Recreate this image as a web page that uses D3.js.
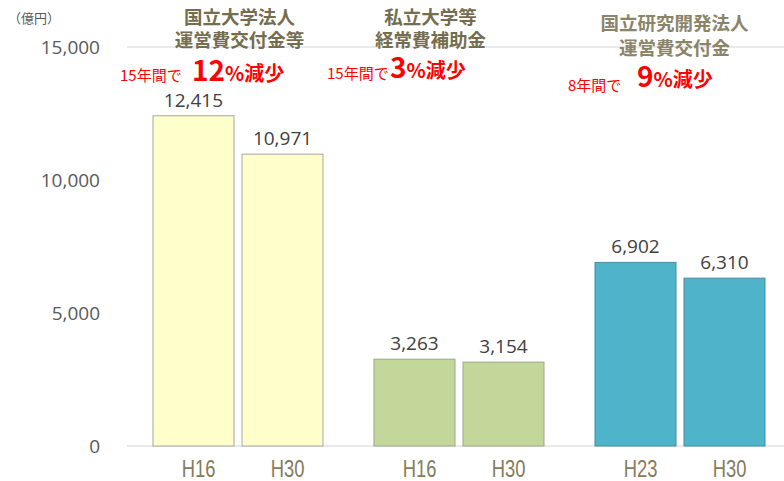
<!DOCTYPE html>
<html>
<head>
<meta charset="utf-8">
<script src="https://cdn.jsdelivr.net/npm/d3@7"></script>
<style>
  body { margin: 0; background: #fff; }
  svg { display: block; }
</style>
</head>
<body>
<script>
// chart data
var titles = [["国立大学法人", "運営費交付金等"], ["私立大学等", "経常費補助金"], ["国立研究開発法人", "運営費交付金"]];
var periods = [["H16", "H30"], ["H16", "H30"], ["H23", "H30"]];
var values = [[12415, 10971], [3263, 3154], [6902, 6310]];
var spanText = ["15年間で", "15年間で", "8年間で"];
var dropPct = ["12", "3", "9"];
var yTicks = [0, 5000, 10000, 15000];

var fills = ["#ffffcc", "#c4d79b", "#4fb3ca"];
var strokes = ["#a6a6a6", "#9aa88a", "#3f8fa3"];

const width = 784, height = 481;

var svg = d3.select("body").append("svg")
    .attr("width", width)
    .attr("height", height)

var x0 = d3.scaleBand().domain(d3.range(titles.length)).range([127, 790])
var x1 = d3.scaleBand().domain([0, 1]).range([26, 196]).paddingInner(0.09)
var y = d3.scaleLinear().domain([0, 15000]).range([446, 47])

// grid lines (top and base only)
svg.selectAll(".grid")
    .data([0, 15000])
    .join("line")
    .attr("x1", 127)
    .attr("x2", width)
    .attr("y1", d => y(d))
    .attr("y2", d => y(d))
    .attr("stroke", "#e3e3e3")
    .attr("stroke-width", 1.5)

// y labels
svg.selectAll(".ylab")
    .data(yTicks)
    .join("text")
    .attr("x", 100)
    .attr("y", d => y(d) + 7)
    .attr("text-anchor", "end")
    .attr("font-family", "'Open Sans', sans-serif")
    .attr("font-size", 19)
    .attr("fill", "#595959")
    .text(d => d3.format(",")(d))

svg.append("text")
    .attr("x", 8)
    .attr("y", 23)
    .attr("font-family", "'Noto Sans CJK JP', sans-serif")
    .attr("font-size", 13)
    .attr("fill", "#595959")
    .text("（億円）")

var groups = svg.selectAll(".grp")
    .data(values)
    .join("g")
    .attr("transform", (d, i) => `translate(${x0(i)},0)`)

// bars
groups.selectAll("rect")
    .data((d, i) => d.map(v => ({ v: v, g: i })))
    .join("rect")
    .attr("x", (d, j) => x1(j))
    .attr("y", d => y(d.v))
    .attr("width", x1.bandwidth())
    .attr("height", d => y(0) - y(d.v))
    .attr("fill", d => fills[d.g])
    .attr("stroke", d => strokes[d.g])
    .attr("stroke-width", 1)

// value labels
groups.selectAll(".val")
    .data(d => d)
    .join("text")
    .attr("x", (d, j) => x1(j) + x1.bandwidth() / 2)
    .attr("y", d => y(d) - 9)
    .attr("text-anchor", "middle")
    .attr("font-family", "'Open Sans', sans-serif")
    .attr("font-size", 19)
    .attr("fill", "#404040")
    .text(d => d3.format(",")(d))

// x labels (narrow look)
groups.selectAll(".xlab")
    .data((d, i) => periods[i])
    .join("text")
    .attr("transform", (d, j) => `translate(${x1(j) + x1.bandwidth() / 2 + 5},477) scale(0.8,1)`)
    .attr("text-anchor", "middle")
    .attr("font-family", "'Liberation Sans', sans-serif")
    .attr("font-size", 23)
    .attr("fill", "#847b5b")
    .text(d => d)

// category titles
var titleDx = [2, -28, -5]
var titleY = [[24, 47], [24, 47], [30, 55]]
var titleColor = ["#756d4f", "#756d4f", "#8a8469"]
groups.each(function (d, i) {
    var g = d3.select(this)
    var cx = x0.bandwidth() / 2 + titleDx[i]
    titles[i].forEach(function (line, k) {
        g.append("text")
            .attr("x", cx)
            .attr("y", titleY[i][k])
            .attr("text-anchor", "middle")
            .attr("font-family", "'Noto Sans CJK JP', sans-serif")
            .attr("font-weight", "bold")
            .attr("font-size", 18.5)
            .attr("fill", titleColor[i])
            .text(line)
    })
})

// red annotations
var spanX = [120, 327, 568], spanY = [81, 79, 91]
var pctX = [192, 390, 637], pctY = [81, 78, 87]
svg.selectAll(".span")
    .data(spanText)
    .join("text")
    .attr("x", (d, i) => spanX[i])
    .attr("y", (d, i) => spanY[i])
    .attr("font-family", "'Noto Sans CJK JP', sans-serif")
    .attr("font-size", 15)
    .attr("fill", "#ff0000")
    .text(d => d)

var pct = svg.selectAll(".pct")
    .data(dropPct)
    .join("text")
    .attr("x", (d, i) => pctX[i])
    .attr("y", (d, i) => pctY[i])
    .attr("font-family", "'Noto Sans CJK JP', sans-serif")
    .attr("font-weight", "bold")
    .attr("fill", "#ff0000")
pct.append("tspan")
    .attr("font-size", 28)
    .text(d => d)
pct.append("tspan")
    .attr("font-size", 20)
    .text("%減少")
</script>
</body>
</html>
